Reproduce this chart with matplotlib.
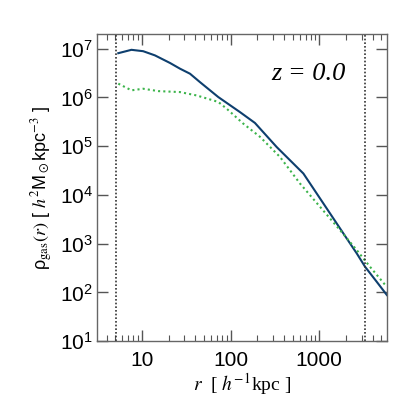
import matplotlib
matplotlib.use("Agg")
import matplotlib.pyplot as plt
from matplotlib.ticker import LogLocator, NullFormatter, FuncFormatter

matplotlib.rcParams['font.family'] = ['Liberation Sans', 'DejaVu Sans']
matplotlib.rcParams['mathtext.fontset'] = 'stix'

# gas density profile, z = 0
r_solid = [5.4, 7.6, 10.3, 14, 20.7, 26.8, 34.8, 45, 72.5, 127.6, 188, 331,
           662, 1112, 1574, 2040, 2650, 3290, 4450, 5800]
rho_solid = [8.1e6, 9.5e6, 8.9e6, 7.3e6, 5.1e6, 3.9e6, 3.07e6, 2.07e6, 1.02e6,
             5.0e5, 3.0e5, 9.6e4, 2.75e4, 6.7e3, 2.6e3, 1.28e3, 630, 335, 165, 88]

r_dot = [5.4, 7.6, 10.3, 15.3, 26.8, 41.4, 72.5, 90, 139, 215, 361, 607, 1020,
         1718, 2650, 3740, 5780]
rho_dot = [1.92e6, 1.4e6, 1.51e6, 1.35e6, 1.29e6, 1.1e6, 8.1e5, 5.9e5, 2.9e5,
           1.55e5, 6.0e4, 1.71e4, 5.7e3, 1.89e3, 736, 335, 130]

r_lines = [5.05, 3280]

fig = plt.figure(figsize=(4.09, 4.09), dpi=100)
ax = fig.add_axes([0.237, 0.166, 0.709, 0.752])

ax.plot(r_solid, rho_solid, color='#0e3f6e', lw=1.5)
ax.plot(r_dot, rho_dot, color='#3cb44b', lw=1.5, ls=(0, (1, 1.5)))
for xv in r_lines:
    ax.axvline(xv, color='#333333', lw=1.2, ls=(0, (1, 1.2)))

ax.set_xscale('log')
ax.set_yscale('log')
ax.set_xlim(3.1, 5800)
ax.set_ylim(10, 2.05e7)

ax.yaxis.set_major_locator(LogLocator(base=10, numticks=10))
ax.yaxis.set_minor_locator(LogLocator(base=10, subs=[], numticks=10))
ax.xaxis.set_minor_locator(LogLocator(base=10, subs=range(2, 10), numticks=10))
ax.xaxis.set_minor_formatter(NullFormatter())
ax.xaxis.set_major_formatter(FuncFormatter(lambda v, p: '%d' % round(v)))

ax.tick_params(which='both', direction='in', top=True, right=True,
               colors='#555555', labelcolor='black', labelsize=15)
ax.tick_params(which='major', length=8, width=1)
ax.tick_params(which='minor', length=4, width=0.8)
ax.tick_params(axis='y', pad=3)
ax.tick_params(axis='x', pad=7)
for s in ax.spines.values():
    s.set_color('#666666')
    s.set_linewidth(1)

ax.text(0.73, 0.87, 'z = 0.0', transform=ax.transAxes, fontsize=19,
        family='Liberation Serif', style='italic', ha='center', va='center')

ax.set_ylabel(r'ρ$_{\rm gas}(r)$ [ $h^2$M$_\odot$kpc$^{-3}$ ]', fontsize=13,
              labelpad=3)
ax.set_xlabel(r'$r$  [ $h^{-1}$kpc ]', fontsize=14, family='Liberation Serif',
              labelpad=1)

fig.savefig('out.png', dpi=100)
